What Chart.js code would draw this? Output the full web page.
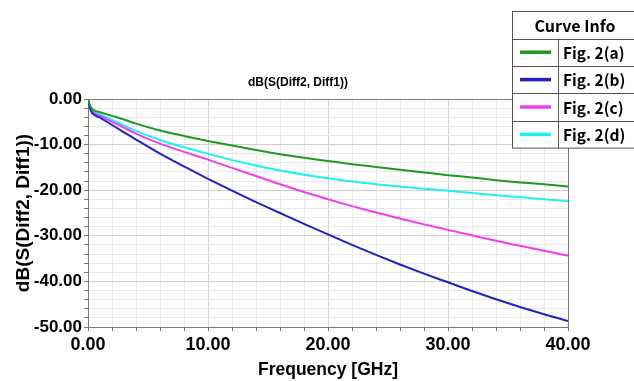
<!DOCTYPE html>
<html>
<head>
<meta charset="utf-8">
<script src="https://cdn.jsdelivr.net/npm/chart.js@4/dist/chart.umd.min.js"></script>
<style>
  html, body { margin: 0; padding: 0; background: #fff; }
  #wrap { width: 634px; height: 381px; }
</style>
</head>
<body>
<div id="wrap"><canvas id="chart" width="634" height="381"></canvas></div>
<script>
// frequency points [GHz]
const freq = [0, 0.1, 0.3, 0.6, 1, 2, 3, 4, 6, 8, 10, 12, 14, 16, 18, 20, 22, 24, 26, 28, 30, 32, 34, 36, 38, 40];

// dB(S(Diff2, Diff1)) per curve
const figA = [0, -0.9, -2.0, -2.6, -2.9, -3.7, -4.5, -5.4, -6.9, -8.1, -9.2, -10.2, -11.2, -12.1, -12.9, -13.6, -14.3, -14.9, -15.5, -16.1, -16.7, -17.2, -17.8, -18.3, -18.7, -19.2];
const figB = [0, -1.4, -2.9, -3.6, -4.1, -5.7, -7.3, -8.9, -12.0, -14.8, -17.5, -20.1, -22.6, -25.0, -27.4, -29.7, -32.0, -34.2, -36.3, -38.3, -40.2, -42.1, -43.9, -45.6, -47.2, -48.7];
const figC = [0, -1.2, -2.6, -3.3, -3.7, -5.0, -6.3, -7.6, -9.8, -11.6, -13.3, -15.1, -16.9, -18.7, -20.4, -22.0, -23.5, -24.9, -26.2, -27.5, -28.7, -29.9, -31.1, -32.2, -33.3, -34.4];
const figD = [0, -1.1, -2.4, -3.0, -3.4, -4.6, -5.8, -7.0, -9.0, -10.6, -12.0, -13.4, -14.6, -15.7, -16.6, -17.4, -18.1, -18.7, -19.2, -19.7, -20.1, -20.6, -21.1, -21.5, -22.0, -22.4];

const curveNames = ["Fig. 2(a)", "Fig. 2(b)", "Fig. 2(c)", "Fig. 2(d)"];
const curveColors = ["#1f9a1f", "#2222c4", "#f23cf0", "#1cf2f2"];

const xMajor = [0, 10, 20, 30, 40];
const yMajor = [0, -10, -20, -30, -40, -50];

const plotTitle = "dB(S(Diff2, Diff1))";
const xTitle = "Frequency [GHz]";
const yTitle = "dB(S(Diff2, Diff1))";
const legendTitle = "Curve Info";

const plain = "'Liberation Sans', Arial, sans-serif";
const korean = "'Noto Sans CJK KR', 'Noto Sans', sans-serif";

const toPoints = (ys) => ys.map((y, i) => ({ x: freq[i], y }));

// chart title over the plot
const titlePlugin = {
  id: "plotTitle",
  afterDraw(chart) {
    const c = chart.ctx;
    c.save();
    c.font = "bold 12px " + plain;
    c.fillStyle = "#000";
    c.textAlign = "center";
    c.textBaseline = "middle";
    c.fillText(plotTitle, 298, 83);
    c.restore();
  },
};

// frame (top + right) like the simulator plot
const framePlugin = {
  id: "frame",
  afterDatasetsDraw(chart) {
    const a = chart.chartArea;
    const c = chart.ctx;
    c.save();
    c.strokeStyle = "#7a7a7a";
    c.lineWidth = 1;
    c.beginPath();
    c.moveTo(a.left, a.top + 0.5);
    c.lineTo(a.right + 0.5, a.top + 0.5);
    c.lineTo(a.right + 0.5, a.bottom);
    c.stroke();
    c.restore();
  },
};

// "Curve Info" table at top right
const curveInfoPlugin = {
  id: "curveInfo",
  afterDraw(chart) {
    const c = chart.ctx;
    const left = 512.5, top = 11.5, right = 640, split = 558.5;
    const headH = 27, rowH = 27.4;
    const bottom = top + headH + rowH * curveNames.length;
    c.save();
    c.fillStyle = "#fff";
    c.fillRect(left, top, right - left, bottom - top);
    c.strokeStyle = "#555";
    c.lineWidth = 1;
    c.strokeRect(left, top, right - left, bottom - top);
    c.beginPath();
    c.moveTo(split, top + headH);
    c.lineTo(split, bottom);
    for (let i = 0; i < curveNames.length; i++) {
      const y = Math.round(top + headH + rowH * i) + 0.5;
      c.moveTo(left, y);
      c.lineTo(right, y);
    }
    c.stroke();

    c.fillStyle = "#000";
    c.textBaseline = "middle";
    c.textAlign = "center";
    c.font = "bold 16px " + korean;
    c.fillText(legendTitle, 575, top + headH / 2 + 1);

    c.textAlign = "left";
    c.font = "bold 15.5px " + korean;
    chart.data.datasets.forEach((ds, i) => {
      const yMid = top + headH + rowH * i + rowH / 2;
      c.strokeStyle = ds.borderColor;
      c.lineWidth = 3.5;
      c.beginPath();
      c.moveTo(520, yMid);
      c.lineTo(551, yMid);
      c.stroke();
      c.fillText(ds.label, 563, yMid + 1);
    });
    c.restore();
  },
};

const gridColor = (ctx) => (ctx.tick && ctx.tick.value % 10 === 0 ? "#cfcfcf" : "#e9e9e9");

new Chart(document.getElementById("chart"), {
  type: "line",
  data: {
    datasets: [figA, figB, figC, figD].map((ys, i) => ({
      label: curveNames[i],
      data: toPoints(ys),
      borderColor: curveColors[i],
      backgroundColor: curveColors[i],
      borderWidth: 2,
      pointRadius: 0,
      cubicInterpolationMode: "monotone",
      fill: false,
    })),
  },
  options: {
    responsive: false,
    animation: false,
    events: [],
    layout: { padding: { top: 99, right: 66, left: 0, bottom: 0 } },
    plugins: {
      legend: { display: false },
      tooltip: { enabled: false },
    },
    scales: {
      x: {
        type: "linear",
        min: 0,
        max: 40,
        afterFit(scale) { scale.height = 54; },
        afterBuildTicks(scale) {
          scale.ticks = [];
          for (let v = 0; v <= 40; v += 2) scale.ticks.push({ value: v });
        },
        border: { color: "#7a7a7a", width: 1 },
        grid: { color: gridColor, tickColor: "#7a7a7a", tickLength: 4, drawTicks: true },
        ticks: {
          color: "#000",
          font: { family: plain, size: 18, weight: "bold" },
          padding: 3,
          maxRotation: 0,
          autoSkip: false,
          callback: (v) => (xMajor.includes(v) ? v.toFixed(2) : ""),
        },
        title: {
          display: true,
          text: xTitle,
          color: "#000",
          font: { family: plain, size: 17.5, weight: "bold" },
          padding: { top: 0, bottom: 0 },
        },
      },
      y: {
        type: "linear",
        min: -50,
        max: 0,
        afterFit(scale) { scale.width = 88; },
        afterBuildTicks(scale) {
          scale.ticks = [];
          for (let v = -50; v <= 0; v += 2) scale.ticks.push({ value: v });
        },
        border: { color: "#7a7a7a", width: 1 },
        grid: { color: gridColor, tickColor: "#7a7a7a", tickLength: 4, drawTicks: true },
        ticks: {
          color: "#000",
          font: { family: plain, size: 17, weight: "bold" },
          padding: 2,
          autoSkip: false,
          callback: (v) => (yMajor.includes(v) ? v.toFixed(2) : ""),
        },
        title: {
          display: true,
          text: yTitle,
          color: "#000",
          font: { family: plain, size: 19, weight: "bold" },
          padding: { top: 12, bottom: 0 },
        },
      },
    },
  },
  plugins: [framePlugin, titlePlugin, curveInfoPlugin],
});
</script>
</body>
</html>
